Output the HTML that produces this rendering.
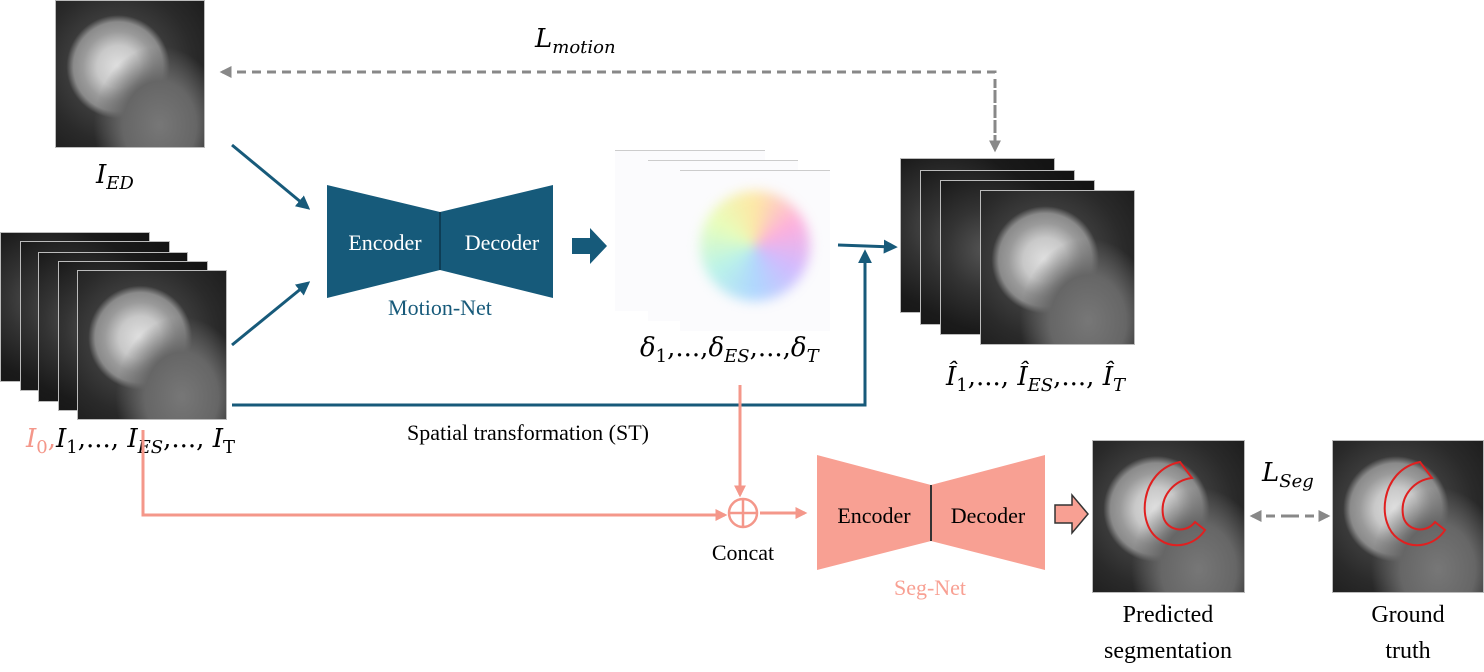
<!DOCTYPE html>
<html><head><meta charset="utf-8"><style>
body{margin:0;background:#fff;}
#root{position:relative;width:1484px;height:672px;overflow:hidden;font-family:"Liberation Serif",serif;}
.mri{position:absolute;width:150px;height:150px;background:radial-gradient(ellipse at 70% 85%,#777 0,#666 25%,transparent 45%),radial-gradient(circle at 42% 45%,#e0e0e0 0,#c8c8c8 18%,#9a9a9a 30%,#8a8a8a 38%,#3a3a3a 44%,#2a2a2a 65%,#1a1a1a 100%);border:1px solid #bbb;box-sizing:border-box;}
.mri.back{background:radial-gradient(circle at 30% 45%,#555 0,#333 30%,#1a1a1a 60%,#111 100%);}
.flow{position:absolute;width:150px;height:160px;background:#fbfbfd;border-top:1px solid #ccc;}
.blob{position:absolute;left:20px;top:20px;width:110px;height:110px;border-radius:50%;background:conic-gradient(#ffe080,#ff90d0,#c0a0ff,#90c8ff,#a0f0e0,#e0ff a0,#ffe080);background:conic-gradient(#ffe080,#ff90d0,#c0a0ff,#90c8ff,#a0f0e0,#e0ffa0,#ffe080);opacity:.7;filter:blur(6px);}
.t{position:absolute;white-space:nowrap;font-size:26px;color:#000;font-family:"DejaVu Serif","Liberation Serif",serif;}
i{font-style:italic;}
sub{font-size:18px;}
</style></head><body>
<div id="root">
<div class="mri" style="left:55px;top:0;height:148px;"></div>
<div class="t" style="left:96px;top:160px;"><i>I</i><sub><i>ED</i></sub></div>
<div class="mri back" style="left:0;top:232px;"></div>
<div class="mri back" style="left:20px;top:241px;"></div>
<div class="mri back" style="left:38px;top:252px;"></div>
<div class="mri back" style="left:58px;top:261px;"></div>
<div class="mri" style="left:77px;top:270px;"></div>
<div class="t" style="left:26px;top:424px;"><span style="color:#f4978a"><i>I</i><sub>0</sub>,</span><i>I</i><sub>1</sub>,..., <i>I</i><sub><i>ES</i></sub>,..., <i>I</i><sub>T</sub></div>

<div class="flow" style="left:615px;top:150px;"></div>
<div class="flow" style="left:648px;top:160px;"></div>
<div class="flow" style="left:680px;top:170px;"><div class="blob"></div></div>
<div class="t" style="left:640px;top:333px;"><i>δ</i><sub>1</sub>,...,<i>δ</i><sub><i>ES</i></sub>,...,<i>δ</i><sub><i>T</i></sub></div>

<div class="mri back" style="left:900px;top:158px;width:155px;height:155px;"></div>
<div class="mri back" style="left:920px;top:170px;width:155px;height:155px;"></div>
<div class="mri back" style="left:940px;top:180px;width:155px;height:155px;"></div>
<div class="mri" style="left:980px;top:190px;width:155px;height:155px;"></div>
<div class="t" style="left:946px;top:362px;"><i>Î</i><sub>1</sub>,..., <i>Î</i><sub><i>ES</i></sub>,..., <i>Î</i><sub><i>T</i></sub></div>

<div class="mri" style="left:1092px;top:440px;width:153px;height:153px;"></div>
<div class="mri" style="left:1332px;top:440px;width:152px;height:153px;"></div>

<svg width="1484" height="672" style="position:absolute;left:0;top:0">
<defs>
<marker id="ag" viewBox="0 0 10 10" refX="8" refY="5" markerWidth="12" markerHeight="12" orient="auto" markerUnits="userSpaceOnUse"><path d="M0,0L10,5L0,10z" fill="#888"/></marker>
<marker id="ap" viewBox="0 0 10 10" refX="8" refY="5" markerWidth="12" markerHeight="12" orient="auto" markerUnits="userSpaceOnUse"><path d="M0,0L10,5L0,10z" fill="#f4978a"/></marker>
<marker id="abl" viewBox="0 0 10 10" refX="8" refY="5" markerWidth="14" markerHeight="14" orient="auto" markerUnits="userSpaceOnUse"><path d="M0,0L10,5L0,10z" fill="#175a7a"/></marker>
</defs>
<g fill="none" stroke="#e02020" stroke-width="2">
<path d="M1180,462 C1140,470 1135,525 1160,540 C1175,550 1195,545 1205,530 L1195,522 C1185,535 1165,530 1163,515 C1160,495 1175,480 1192,478 Z"/>
<path d="M1420,462 C1380,470 1375,525 1400,540 C1415,550 1435,545 1445,530 L1435,522 C1425,535 1405,530 1403,515 C1400,495 1415,480 1432,478 Z"/>
</g>
<g stroke="#175a7a" stroke-width="3" fill="none">
<line x1="232" y1="145" x2="308" y2="208" marker-end="url(#abl)"/>
<line x1="232" y1="345" x2="308" y2="283" marker-end="url(#abl)"/>
<line x1="838" y1="245" x2="895" y2="247" marker-end="url(#abl)"/>
<polyline points="232,405 865,405 865,252" marker-end="url(#abl)"/>
</g>
<polygon points="327,185 440,212 553,185 553,298 440,270 327,298" fill="#165a7a"/>
<line x1="440" y1="212" x2="440" y2="270" stroke="#0d3d55" stroke-width="2"/>
<polygon points="572,238 590,238 590,228 607,246 590,264 590,254 572,254" fill="#165a7a"/>
<g stroke="#888" stroke-width="3" fill="none" stroke-dasharray="9,6">
<polyline points="995,148 995,72 222,72" marker-end="url(#ag)"/>
<line x1="995" y1="90" x2="995" y2="150" marker-end="url(#ag)"/>
<line x1="1290" y1="516" x2="1328" y2="516" marker-end="url(#ag)"/>
<line x1="1290" y1="516" x2="1252" y2="516" marker-end="url(#ag)"/>
</g>
<g stroke="#f4978a" stroke-width="3" fill="none">
<line x1="740" y1="385" x2="740" y2="495" marker-end="url(#ap)"/>
<polyline points="143,430 143,515 725,515" marker-end="url(#ap)"/>
<line x1="760" y1="513" x2="805" y2="513" marker-end="url(#ap)"/>
<circle cx="743" cy="513" r="14" stroke-width="2.5"/>
<line x1="729" y1="513" x2="757" y2="513" stroke-width="2.5"/>
<line x1="743" y1="499" x2="743" y2="527" stroke-width="2.5"/>
</g>
<polygon points="817,455 931,485 1045,455 1045,570 931,541 817,570" fill="#f8a093"/>
<line x1="931" y1="485" x2="931" y2="541" stroke="#333" stroke-width="2"/>
<polygon points="1055,505 1072,505 1072,495 1088,514 1072,533 1072,523 1055,523" fill="#f8a093" stroke="#333" stroke-width="1.5"/>
<g font-family="Liberation Serif,serif" font-size="22" fill="#fff" text-anchor="middle">
<text x="385" y="250">Encoder</text>
<text x="502" y="250">Decoder</text>
<text x="874" y="523" fill="#000">Encoder</text>
<text x="988" y="523" fill="#000">Decoder</text>
<text x="440" y="315" fill="#175a7a">Motion-Net</text>
<text x="930" y="595" fill="#f8a093">Seg-Net</text>
<text x="528" y="440" fill="#000">Spatial transformation (ST)</text>
<text x="743" y="560" fill="#000">Concat</text>
<text x="1168" y="622" fill="#000" font-size="24">Predicted</text>
<text x="1168" y="658" fill="#000" font-size="24">segmentation</text>
<text x="1408" y="622" fill="#000" font-size="24">Ground</text>
<text x="1408" y="658" fill="#000" font-size="24">truth</text>
</g>
</svg>
<div class="t" style="left:535px;top:24px;"><i>L</i><sub><i>motion</i></sub></div>
<div class="t" style="left:1262px;top:458px;"><i>L</i><sub><i>Seg</i></sub></div>
</div>
</body></html>
